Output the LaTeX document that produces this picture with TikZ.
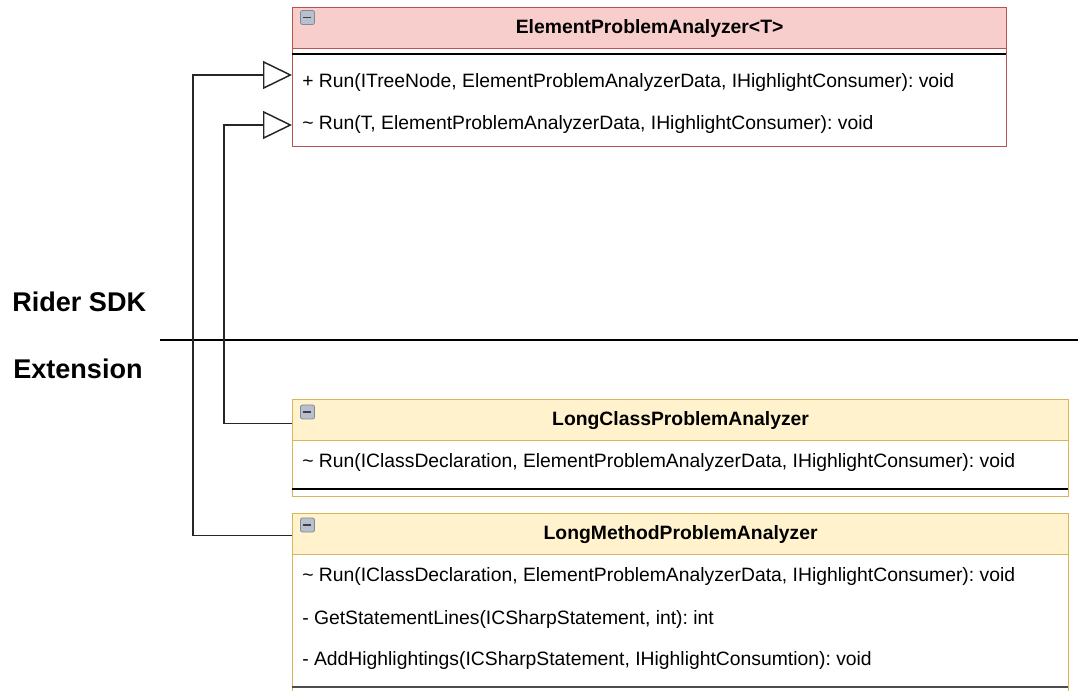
\documentclass[tikz,border=0pt]{standalone}
\usepackage{fontspec}
\setmainfont{Liberation Sans}
\usetikzlibrary{arrows.meta}
\definecolor{pinkF}{HTML}{F8CECC}
\definecolor{pinkD}{HTML}{B85450}
\definecolor{yelF}{HTML}{FFF2CC}
\definecolor{yelD}{HTML}{D6B656}
\definecolor{iconF}{HTML}{B7C0CC}
\definecolor{iconD}{HTML}{7F8A98}
\frenchspacing
\begin{document}
\begin{tikzpicture}[x=0.75pt,y=-0.75pt,
  hdr/.style={draw, line width=0.9pt, inner sep=0, anchor=north west, minimum height=30.75pt, font=\bfseries\fontsize{14.5}{17}\selectfont},
  bodybox/.style={draw, fill=white, line width=0.9pt, inner sep=0, anchor=north west},
  row/.style={anchor=west, inner xsep=7.5pt, inner ysep=0, font=\fontsize{14.5}{17}\selectfont},
  sepline/.style={line width=1.4pt, black},
  inh/.style={draw=black!85, line width=1.1pt, -{Triangle[open, length=21.75pt, width=21pt, fill=white]}},
  lane/.style={anchor=base west, inner sep=0, font=\bfseries\fontsize{20.3}{24}\selectfont},
  icon/.style={draw=iconD, fill=iconF, rounded corners=1.5pt, minimum size=10.5pt, inner sep=0, line width=0.6pt},
  iconbar/.style={line width=1.4pt, black!75},
]
\clip (0,0) rectangle (1078,691);
\fill[white] (0,0) rectangle (1078,691);

% lanes
\node[lane] (rsdk) at (12,312) {Rider SDK};
\node[lane] (ext) at (13,379) {Extension};
\coordinate (dl) at (160,340);
\coordinate (dr) at (1078,340);
\draw[line width=1.1pt] (dl) -- (dr);

% ElementProblemAnalyzer<T>
\node[bodybox, draw=pinkD, minimum width=535.5pt, minimum height=73.5pt] (epaB) at (292,48) {};
\node[hdr, draw=pinkD, fill=pinkF, minimum width=535.5pt] (epaH) at (292,7) {ElementProblemAnalyzer<T>};
\draw[sepline] (292,54) -- (1006,54);
\node[row] (epaR1) at (292,83) {+ Run(ITreeNode, ElementProblemAnalyzerData, IHighlightConsumer): void};
\node[row] (epaR2) at (292,125) {\textasciitilde{} Run(T, ElementProblemAnalyzerData, IHighlightConsumer): void};
\node[icon] (epaI) at (307.5,17.5) {};
\draw[iconbar] (epaI.west) ++(3,0) -- ++(8,0);

% LongClassProblemAnalyzer
\node[bodybox, draw=yelD, minimum width=582pt, minimum height=42pt] (lcB) at (292,440) {};
\node[hdr, draw=yelD, fill=yelF, minimum width=582pt] (lcH) at (292,399) {LongClassProblemAnalyzer};
\node[row] (lcR1) at (292,463) {\textasciitilde{} Run(IClassDeclaration, ElementProblemAnalyzerData, IHighlightConsumer): void};
\draw[sepline] (292,489) -- (1068,489);
\node[icon] (lcI) at (307.5,412) {};
\draw[iconbar] (lcI.west) ++(3,0) -- ++(8,0);

% LongMethodProblemAnalyzer
\node[bodybox, draw=yelD, minimum width=582pt, minimum height=124.5pt] (lmB) at (292,554) {};
\node[hdr, draw=yelD, fill=yelF, minimum width=582pt] (lmH) at (292,513) {LongMethodProblemAnalyzer};
\node[row] (lmR1) at (292,576) {\textasciitilde{} Run(IClassDeclaration, ElementProblemAnalyzerData, IHighlightConsumer): void};
\node[row] (lmR2) at (292,619) {- GetStatementLines(ICSharpStatement, int): int};
\node[row] (lmR3) at (292,660) {- AddHighlightings(ICSharpStatement, IHighlightConsumtion): void};
\draw[sepline, black!70, line width=2pt] (292,687) -- (1068,687);
\node[icon] (lmI) at (307.5,525) {};
\draw[iconbar] (lmI.west) ++(3,0) -- ++(8,0);

% inheritance connectors
\draw[inh] ([yshift=-1.1pt]lmH.west) -- ++(-99,0) |- ([yshift=6pt]epaR1.west);
\draw[inh] ([yshift=-2.6pt]lcH.west) -- ++(-68,0) |- (epaR2.west);
\end{tikzpicture}
\end{document}
